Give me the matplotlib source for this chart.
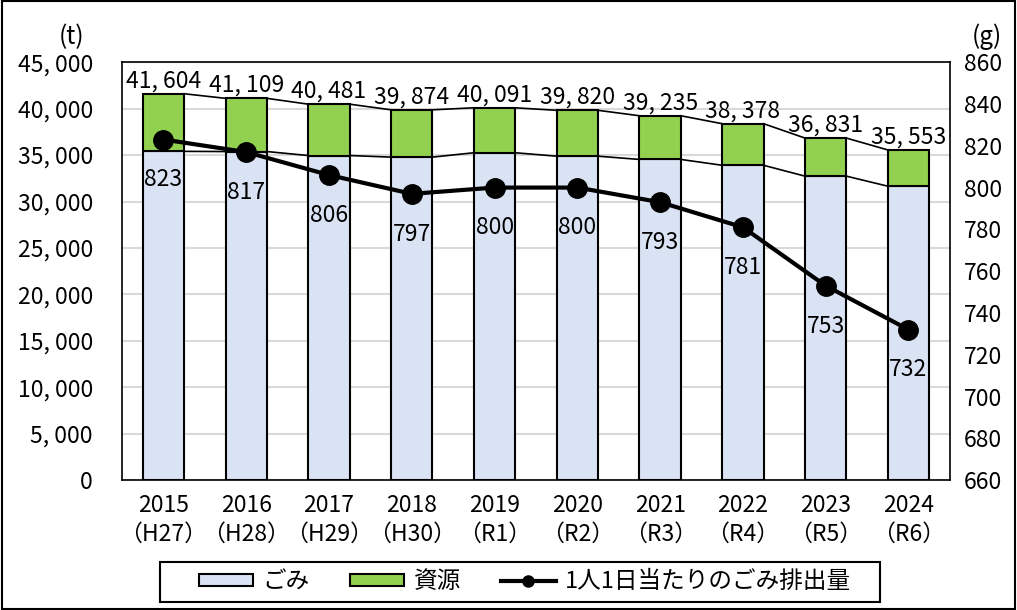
import matplotlib
matplotlib.use("Agg")
import matplotlib.pyplot as plt
from matplotlib.patches import Rectangle
from matplotlib.lines import Line2D
import numpy as np

plt.rcParams['font.family'] = ['Noto Sans CJK JP', 'DejaVu Sans']

years = ["2015", "2016", "2017", "2018", "2019", "2020", "2021", "2022", "2023", "2024"]
eras = ["（H27）", "（H28）", "（H29）", "（H30）", "（R1）", "（R2）", "（R3）", "（R4）", "（R5）", "（R6）"]
totals = [41604, 41109, 40481, 39874, 40091, 39820, 39235, 38378, 36831, 35553]
gomi = [35400, 35380, 34950, 34780, 35250, 34880, 34530, 33900, 32730, 31650]
shigen = [t - g for t, g in zip(totals, gomi)]
per_person = [823, 817, 806, 797, 800, 800, 793, 781, 753, 732]

FS = 16.5

fig = plt.figure(figsize=(10.17, 6.10), dpi=100)
ax = fig.add_axes([0.12, 0.213, 0.814, 0.685])
ax2 = ax.twinx()

x = np.arange(len(years))
w = 0.5
ax.bar(x, gomi, width=w, color='#DAE3F3', edgecolor='black', linewidth=1.5, zorder=3, label='ごみ')
ax.bar(x, shigen, width=w, bottom=gomi, color='#92D050', edgecolor='black', linewidth=1.5, zorder=3, label='資源')

# series lines
for i in range(len(x) - 1):
    ax.plot([x[i] + w / 2, x[i + 1] - w / 2], [gomi[i], gomi[i + 1]], color='black', lw=1.2, zorder=2)
    ax.plot([x[i] + w / 2, x[i + 1] - w / 2], [totals[i], totals[i + 1]], color='black', lw=1.2, zorder=2)

for i, t in enumerate(totals):
    ax.annotate(f"{t:,}".replace(",", ", "), (x[i], t), xytext=(0, 1), textcoords='offset points',
                ha='center', va='bottom', fontsize=FS)

ax.set_ylim(0, 45000)
ax.set_xlim(-0.5, len(x) - 0.5)
ax.set_yticks(np.arange(0, 45001, 5000))
ax.set_yticklabels([f"{v:,}".replace(",", ", ") for v in range(0, 45001, 5000)], fontsize=FS)
ax.set_xticks(x)
ax.set_xticklabels([f"{y}\n{e}" for y, e in zip(years, eras)], fontsize=FS, linespacing=1.3)
ax.grid(axis='y', color='#D9D9D9', lw=1.5, zorder=0)
ax.set_axisbelow(True)
ax.tick_params(axis='y', length=0, pad=21)
ax.tick_params(axis='x', length=0, pad=10)
for s in ax.spines.values():
    s.set_color('black'); s.set_linewidth(1.2)

ax2.plot(x, per_person, color='black', lw=3, marker='o', markersize=14, zorder=5)
for i, v in enumerate(per_person):
    ax2.annotate(str(v), (x[i], v), xytext=(0, -29), textcoords='offset points',
                 ha='center', va='center', fontsize=FS)
ax2.set_ylim(660, 860)
ax2.set_yticks(np.arange(660, 861, 20))
ax2.tick_params(axis='y', length=0, labelsize=FS, pad=10)
for s in ax2.spines.values():
    s.set_visible(False)

fig.text(72 / 1017, 1 - 37 / 610, "(t)", ha='center', va='center', fontsize=FS + 1)
fig.text(987 / 1017, 1 - 37 / 610, "(g)", ha='center', va='center', fontsize=FS + 1)

h1, lab1 = ax.get_legend_handles_labels()
lh = Line2D([], [], color='black', lw=3, marker='o', markersize=8)
leg = fig.legend(h1 + [lh], lab1 + ['1人1日当たりのごみ排出量'], loc='center',
                 bbox_to_anchor=(525 / 1017, 1 - 582 / 610),
                 ncol=3, fontsize=17, frameon=False,
                 handlelength=2.3, handleheight=0.45, handletextpad=0.4, columnspacing=1.7, borderpad=0.2)

fig.patches.append(Rectangle((160 / 1017, 1 - 602 / 610), 720 / 1017, 40 / 610, transform=fig.transFigure,
                             fill=False, edgecolor='black', lw=1.5))
fig.patches.append(Rectangle((0.002, 0.002), 0.996, 0.996, transform=fig.transFigure,
                             fill=False, edgecolor='black', lw=1.5))

fig.savefig("out.png", dpi=100)
